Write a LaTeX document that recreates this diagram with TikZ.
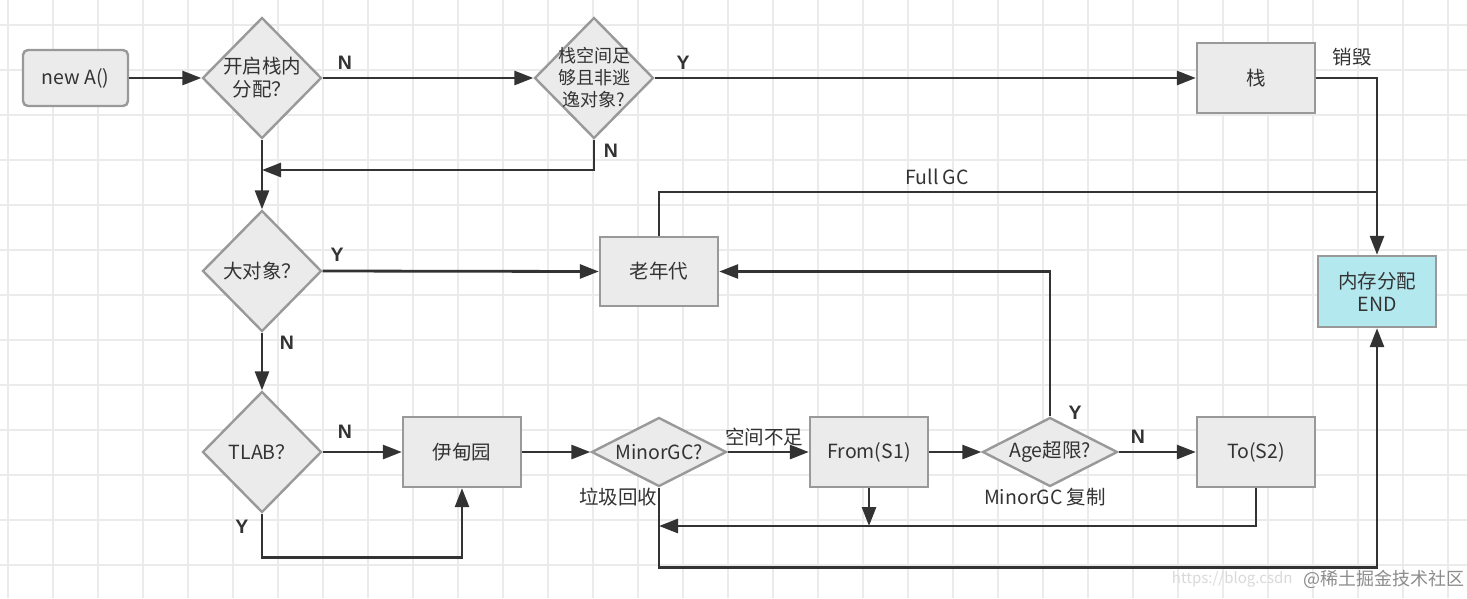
\documentclass[tikz,border=0pt]{standalone}
\usepackage{fontspec}
\setmainfont{Noto Sans CJK SC}
\newfontfamily\labfont{Liberation Sans}
\usetikzlibrary{shapes.geometric,arrows.meta}
\definecolor{ink}{HTML}{333333}
\definecolor{bord}{HTML}{999999}
\definecolor{boxfill}{HTML}{EBEBEB}
\definecolor{endfill}{HTML}{B3E8EF}
\definecolor{gridc}{HTML}{EBEBEB}
\tikzset{
  base/.style={draw=bord,line width=2.4pt,fill=boxfill,inner sep=0pt,text=ink,font=\fontsize{19.5}{23}\selectfont},
  box/.style={base,rectangle,minimum width=118pt,minimum height=70pt},
  dia/.style={base,diamond,minimum width=119pt,minimum height=121pt},
  flatdia/.style={base,diamond,minimum width=135pt,minimum height=69pt},
  conn/.style={draw=ink,line width=2.8pt,-{Triangle[length=19pt,width=14pt]}},
  plain/.style={draw=ink,line width=2.8pt},
  yn/.style={text=ink,font=\labfont\bfseries\fontsize{19.5}{22}\selectfont},
  lbl/.style={text=ink,font=\fontsize{19.5}{23}\selectfont},
}
\begin{document}
\begin{tikzpicture}[x=1pt,y=-1pt]
\useasboundingbox (0,0) rectangle (1467,598);
\fill[white] (0,0) rectangle (1467,598);
% grid
\foreach \gx in {0,...,32} \draw[gridc,line width=1.3pt] (8+45*\gx,0) -- (8+45*\gx,598);
\foreach \gy in {0,...,12} \draw[gridc,line width=1.3pt] (0,25+45*\gy) -- (1467,25+45*\gy);
% nodes
\node[base,rectangle,rounded corners=5pt,minimum width=105pt,minimum height=56pt] (newA) at (75.5,78) {new A()};
\node[dia,label={[lbl,align=center]center:开启栈内\\分配？}] (d1) at (262,78) {};
\node[dia,label={[lbl,align=center,font=\fontsize{18}{22}\selectfont]center:栈空间足\\够且非逃\\逸对象?}] (d2) at (594,78) {};
\node[box] (stack) at (1256,78) {栈};
\node[box,fill=endfill,minimum height=71pt,align=center] (endbox) at (1377,291.5) {内存分配\\END};
\node[dia,label={[lbl]center:大对象？}] (d3) at (262,271) {};
\node[box,minimum height=69pt] (old) at (659,271.5) {老年代};
\node[dia,label={[lbl]center:TLAB？}] (tlab) at (262,452) {};
\node[box] (eden) at (462,452) {伊甸园};
\node[flatdia,label={[lbl]center:MinorGC?}] (mgc) at (659,452) {};
\node[box] (from) at (869,452) {From(S1)};
\node[flatdia,label={[lbl]center:Age超限?}] (age) at (1050,452) {};
\node[box] (to) at (1256,452) {To(S2)};
% junctions
\coordinate (j1) at (262,170);
\coordinate (fg) at (1377,192);
\coordinate (j2) at (659,526);
% connectors
\draw[conn] (newA.east) -- (d1.west);
\draw[conn] (d1.east) -- (d2.west);
\draw[conn] (d2.east) -- (stack.west);
\draw[conn] (stack.east) -| (endbox.north);
\draw[conn] (d2.south) |- (j1);
\draw[conn] (d1.south) -- (d3.north);
\draw[conn] (d3.east) -- (old.west);
\draw[plain] (old.north) |- (fg);
\draw[conn] (d3.south) -- (tlab.north);
\draw[conn] (tlab.east) -- (eden.west);
\draw[conn] (tlab.south) -- ++(0,44) -| (eden.south);
\draw[conn] (eden.east) -- (mgc.west);
\draw[conn] (mgc.east) -- (from.west);
\draw[conn] (from.east) -- (age.west);
\draw[conn] (age.east) -- (to.west);
\draw[conn] (age.north) |- (old.east);
\draw[conn] (to.south) |- (j2);
\draw[conn] (from.south) -- (from.south |- j2);
\draw[conn] (mgc.south) -- ++(0,80) -| (endbox.south);
% labels
\node[yn] (l1) at (345,63) {N};
\node[yn] (l2) at (683,63) {Y};
\node[yn] (l3) at (611,151) {N};
\node[yn] (l4) at (337,255) {Y};
\node[yn] (l5) at (287,343) {N};
\node[yn] (l6) at (345,432) {N};
\node[yn] (l7) at (242,527) {Y};
\node[yn] (l8) at (1075,413) {Y};
\node[yn] (l9) at (1138,437) {N};
\node[lbl] (t1) at (1352,57) {销毁};
\node[lbl] (t2) at (937,177) {Full GC};
\node[lbl] (t3) at (618,497) {垃圾回收};
\node[lbl] (t4) at (764,437) {空间不足};
\node[lbl] (t5) at (1045,497) {MinorGC 复制};
% watermark
\node[anchor=east,text=black!15,font=\fontsize{15}{18}\selectfont] (w1) at (1296,579) {https://blog.csdn};
\node[anchor=west,text=black!45,font=\fontsize{18}{20}\selectfont] (w2) at (1300,579) {@稀土掘金技术社区};
\end{tikzpicture}
\end{document}
